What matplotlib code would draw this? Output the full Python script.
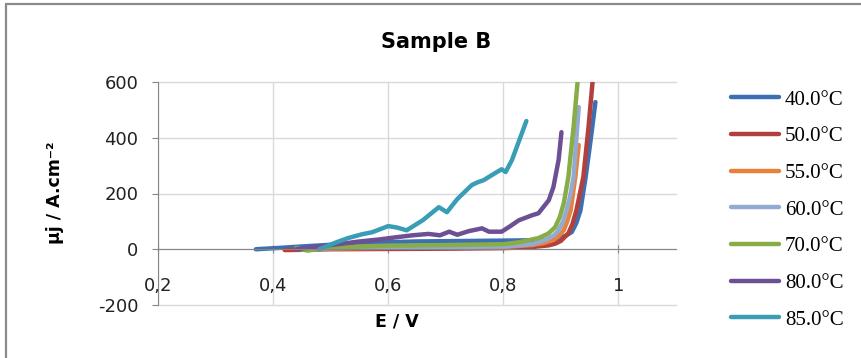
import matplotlib.pyplot as plt
from matplotlib.patches import Rectangle

# values
labels = ["40.0°C", "50.0°C", "55.0°C", "60.0°C", "70.0°C", "80.0°C", "85.0°C"]
colors = ["#3d6fb3", "#b3403c", "#e8823a", "#93aad3", "#88ad46", "#6d4f94", "#3a9db6"]

e_40 = [0.37, 0.42, 0.45, 0.50, 0.55, 0.60, 0.65, 0.70, 0.75, 0.80, 0.84, 0.87, 0.885, 0.896, 0.908, 0.919,
        0.927, 0.934, 0.943, 0.951, 0.96]
j_40 = [0, 6, 10, 16, 22, 25, 28, 29, 30, 31, 32, 33, 35, 40, 48, 62, 95, 140, 259, 381, 528]

e_50 = [0.42, 0.45, 0.50, 0.60, 0.70, 0.80, 0.85, 0.879, 0.89, 0.90, 0.913, 0.92, 0.927, 0.939, 0.948, 0.955]
j_50 = [-3, -2, 0, 1, 2, 4, 8, 14, 20, 30, 57, 90, 140, 259, 438, 600]

e_55 = [0.45, 0.50, 0.60, 0.70, 0.80, 0.85, 0.87, 0.885, 0.895, 0.905, 0.911, 0.917, 0.925, 0.931]
j_55 = [0, 3, 5, 6, 8, 15, 22, 32, 45, 68, 100, 140, 259, 374]

e_60 = [0.45, 0.50, 0.60, 0.70, 0.80, 0.85, 0.875, 0.888, 0.896, 0.904, 0.91, 0.916, 0.922, 0.931]
j_60 = [0, 4, 7, 8, 10, 18, 35, 50, 68, 100, 140, 190, 259, 510]

e_70 = [0.44, 0.46, 0.48, 0.50, 0.55, 0.60, 0.70, 0.80, 0.827, 0.861, 0.878, 0.89, 0.898, 0.905, 0.913, 0.922, 0.929]
j_70 = [5, -5, 2, 5, 10, 13, 15, 18, 25, 40, 56, 79, 115, 165, 259, 438, 600]

e_80 = [0.44, 0.48, 0.52, 0.55, 0.584, 0.61, 0.642, 0.67, 0.69, 0.706, 0.72, 0.74, 0.763, 0.775, 0.797, 0.81,
        0.827, 0.85, 0.861, 0.879, 0.887, 0.896, 0.901]
j_80 = [0, 10, 20, 28, 35, 42, 50, 55, 50, 63, 52, 65, 75, 63, 63, 80, 104, 122, 129, 176, 223, 320, 420]

e_85 = [0.48, 0.51, 0.53, 0.555, 0.572, 0.60, 0.615, 0.632, 0.66, 0.688, 0.702, 0.72, 0.745, 0.755, 0.766,
        0.78, 0.797, 0.804, 0.815, 0.84]
j_85 = [0, 25, 40, 54, 61, 83, 78, 68, 104, 151, 133, 180, 230, 240, 248, 266, 287, 277, 320, 460]

series_e = [e_40, e_50, e_55, e_60, e_70, e_80, e_85]
series_j = [j_40, j_50, j_55, j_60, j_70, j_80, j_85]

xticks = [0.2, 0.4, 0.6, 0.8, 1.0]
xtick_labels = ["0,2", "0,4", "0,6", "0,8", "1"]
yticks = [-200, 0, 200, 400, 600]

plt.rcParams["font.family"] = ["DejaVu Sans"]
plt.rcParams["axes.unicode_minus"] = False

fig = plt.figure(figsize=(8.61, 3.58), dpi=100)
ax = fig.add_axes([158 / 861, 1 - 305 / 358, (676 - 158) / 861, (305 - 82) / 358])

for e, j, c, lab in zip(series_e, series_j, colors, labels):
    ax.plot(e, j, color=c, lw=3.2, label=lab, solid_capstyle="round", solid_joinstyle="round")

ax.set_xlim(0.2, 1.1)
ax.set_ylim(-200, 600)
ax.set_xticks(xticks)
ax.set_xticklabels(xtick_labels)
ax.set_yticks(yticks)
ax.grid(True, color="#d9d9d9", lw=1)
ax.set_axisbelow(True)
for gl in ax.get_ygridlines() + ax.get_xgridlines():
    gl.set_clip_on(False)

for s in ["top", "right"]:
    ax.spines[s].set_visible(False)
ax.spines["bottom"].set_position(("data", 0))
ax.spines["bottom"].set_color("#868686")
ax.spines["left"].set_color("#868686")
ax.tick_params(axis="x", direction="inout", length=6, color="#868686", pad=17, labelsize=13, labelcolor="#222222")
ax.tick_params(axis="y", direction="out", length=4, color="#868686", pad=10, labelsize=13, labelcolor="#222222")

fig.text(397 / 861, 1 - 321 / 358, "E / V", ha="center", va="center", fontsize=12.5, fontweight="bold")
fig.text(55 / 861, 1 - 193 / 358, "µj / A.cm⁻²", ha="center", va="center", rotation=90,
         fontsize=12.5, fontweight="bold")
fig.text(436 / 861, 1 - 42 / 358, "Sample B", ha="center", va="center", fontsize=15, fontweight="bold")

handles, labs = ax.get_legend_handles_labels()
fig.legend(handles, labs, loc="upper left", bbox_to_anchor=(731 / 861, 1 - 90 / 358),
           frameon=False, borderpad=0, borderaxespad=0, handlelength=2.3, handletextpad=0.28,
           labelspacing=0.82, prop={"family": "Liberation Serif", "size": 15})

fig.patches.append(Rectangle((6 / 861, -0.1), 1.2, 1 - 4 / 358 + 0.1, transform=fig.transFigure,
                             fill=False, edgecolor="#8a8a8a", lw=1.6))

fig.savefig("out.png", dpi=100)
